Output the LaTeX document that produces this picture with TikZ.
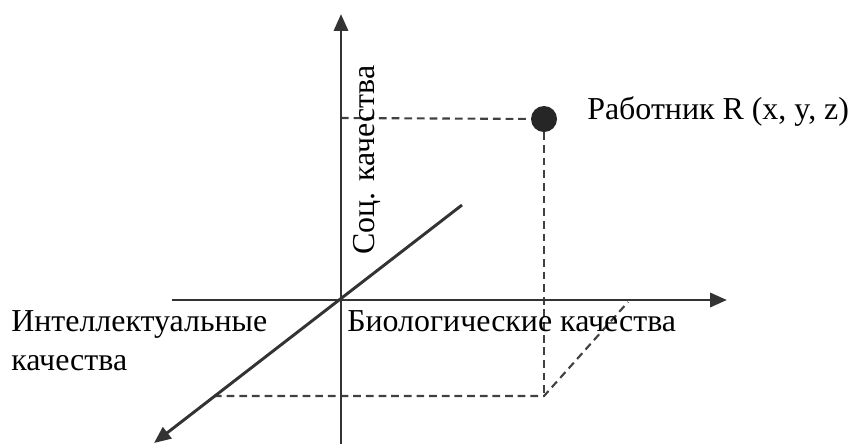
\documentclass[tikz,border=0pt]{standalone}
\usepackage{fontspec}
\setmainfont{Liberation Serif}
\usetikzlibrary{arrows.meta,positioning}

\begin{document}
\begin{tikzpicture}[
  x=0.025cm, y=-0.025cm, >={Triangle[length=12pt,width=10pt]},
  axis/.style={->, line width=2.1pt, black!80},
  proj/.style={line width=1.5pt, black!75, dash pattern=on 5.5pt off 3.5pt},
  lbl/.style={font=\fontsize{22.7}{27.7}\selectfont, inner sep=0pt, text=black}
]
\useasboundingbox (0,0) rectangle (853,443);

% axes ends
\coordinate (o) at (341,300);
\coordinate (ytop) at (341,14);
\coordinate (ybot) at (341,445);
\coordinate (xleft) at (172,300);
\coordinate (xright) at (727,300);
\coordinate (zback) at (462,205);
\coordinate (zfront) at (154,443);

% worker point and its projections
\node[circle, fill=black!85, minimum size=18.5pt, inner sep=0pt] (worker) at (544,119) {};
\coordinate (wy) at (341,118);
\coordinate (wfloor) at (544,396);
\coordinate (wz) at (214,396);
\coordinate (wx) at (628,302);

\draw[proj] (wy) -- (worker);
\draw[proj] (worker) -- (wfloor);
\draw[proj] (wz) -- (wfloor) -- (wx);

\draw[axis] (ybot) -- (ytop);
\draw[axis] (xleft) -- (xright);
\draw[axis] (zback) -- (zfront);

% labels
\node[lbl, anchor=base west] (workerlbl) at (587,119) {Работник R (x, y, z)};
\node[lbl, rotate=90] (soc) at (367,160) {Соц. качества};
\node[lbl, anchor=base west] (bio) at (347,331) {Биологические качества};
\node[lbl, anchor=base west, align=left] (intel) at (11,370) {Интеллектуальные\\качества};

\end{tikzpicture}
\end{document}
